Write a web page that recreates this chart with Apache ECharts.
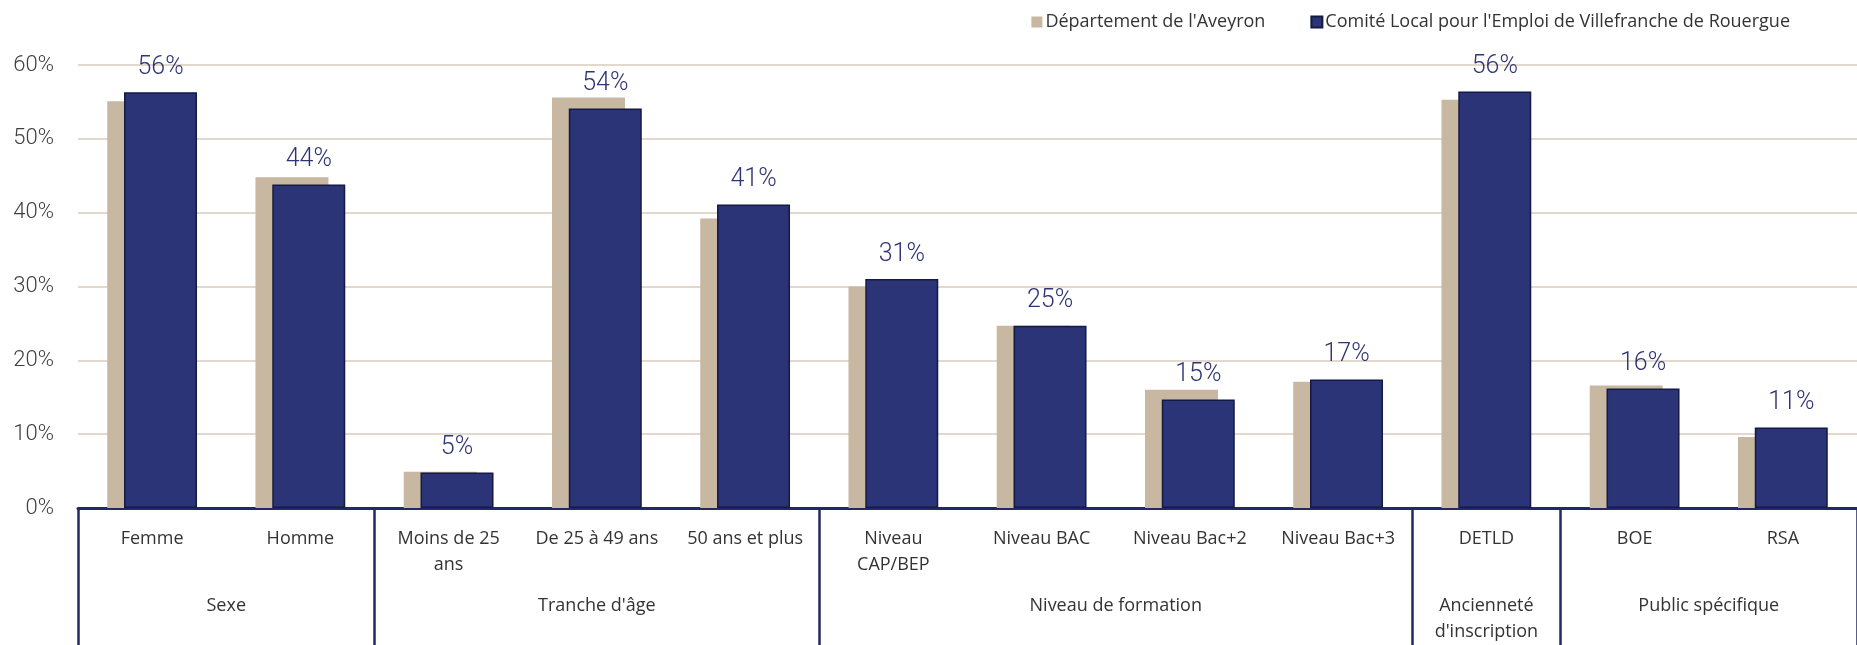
<!DOCTYPE html>
<html>
<head>
<meta charset="utf-8">
<script src="https://cdn.jsdelivr.net/npm/echarts@6/dist/echarts.min.js"></script>
<style>
html,body{margin:0;padding:0;background:#fff;}
#chart{width:1857px;height:645px;}
</style>
</head>
<body>
<div id="chart"></div>
<script>
// ---- data ----
const categories = ['Femme', 'Homme', 'Moins de 25\nans', 'De 25 à 49 ans', '50 ans et plus',
  'Niveau\nCAP/BEP', 'Niveau BAC', 'Niveau Bac+2', 'Niveau Bac+3', 'DETLD', 'BOE', 'RSA'];
const seriesNames = ["Département de l'Aveyron", "Comité Local pour l'Emploi de Villefranche de Rouergue"];
const departement = [55.1, 44.8, 4.9, 55.6, 39.2, 30.0, 24.7, 16.0, 17.1, 55.3, 16.6, 9.6];
const cle = [56.3, 43.8, 4.8, 54.1, 41.1, 31.0, 24.7, 14.7, 17.4, 56.4, 16.2, 10.9];
const groupNames = ['Sexe', "Tranche d'âge", 'Niveau de formation', 'Ancienneté\nd\'inscription', 'Public spécifique'];
const groupCenters = [1, 3.5, 7, 9.5, 11];
const groupBounds = [0, 2, 5, 9, 10, 12];

const chart = echarts.init(document.getElementById('chart'));
chart.setOption({
  animation: false,
  backgroundColor: '#ffffff',
  legend: {
    top: 8,
    right: 62,
    itemWidth: 11,
    itemHeight: 11,
    itemGap: 45,
    icon: 'rect',
    textStyle: { fontFamily: 'Open Sans', fontSize: 18, color: '#333333', padding: [0, 0, 0, -2] },
    data: seriesNames
  },
  grid: { left: 78, right: 0, top: 65, bottom: 132, containLabel: false },
  xAxis: [
    {
      type: 'category',
      data: categories,
      position: 'bottom',
      axisLine: { show: true, lineStyle: { color: '#232a63', width: 3 } },
      axisTick: { show: false },
      axisLabel: {
        interval: 0,
        margin: 18,
        fontFamily: 'Open Sans',
        fontSize: 18,
        lineHeight: 26,
        color: '#333333'
      }
    },
    {
      type: 'value',
      min: 0,
      max: 12,
      position: 'bottom',
      offset: 0,
      axisLine: { show: false },
      splitLine: { show: false },
      axisTick: {
        show: true,
        customValues: groupBounds,
        length: 140,
        lineStyle: { color: '#232a63', width: 2.5 }
      },
      axisLabel: {
        customValues: groupCenters,
        margin: 85,
        fontFamily: 'Open Sans',
        fontSize: 18,
        lineHeight: 26,
        color: '#333333',
        formatter: function (v) {
          const i = groupCenters.indexOf(v);
          return i >= 0 ? groupNames[i] : '';
        }
      }
    }
  ],
  yAxis: {
    type: 'value',
    min: 0,
    max: 60,
    interval: 10,
    axisLine: { show: false },
    axisTick: { show: false },
    splitLine: { show: true, lineStyle: { color: '#e2d8cc', width: 2 } },
    axisLabel: {
      margin: 24,
      fontFamily: 'Roboto',
      fontWeight: 300,
      fontSize: 22,
      color: '#404040',
      formatter: function (v) { return v + '%'; }
    }
  },
  series: [
    {
      name: seriesNames[0],
      type: 'bar',
      xAxisIndex: 0,
      data: departement,
      barWidth: 73,
      barGap: '-77%',
      itemStyle: { color: '#c8b7a1' }
    },
    {
      name: seriesNames[1],
      type: 'bar',
      xAxisIndex: 0,
      data: cle,
      barWidth: 73,
      barGap: '-77%',
      itemStyle: { color: '#2a3476', borderColor: '#151a45', borderWidth: 1.5 },
      label: {
        show: true,
        position: 'top',
        distance: 12,
        fontFamily: 'Roboto',
        fontWeight: 300,
        fontSize: 25,
        color: '#2e3572',
        formatter: function (p) { return Math.round(p.value) + '%'; }
      }
    }
  ]
});
</script>
</body>
</html>
